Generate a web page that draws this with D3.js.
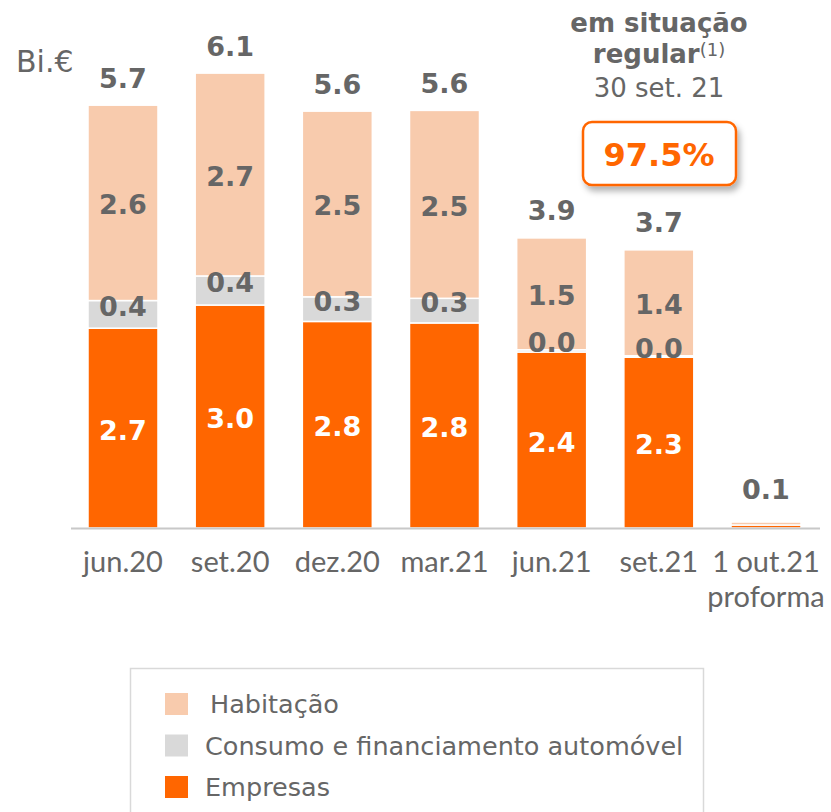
<!DOCTYPE html>
<html>
<head>
<meta charset="utf-8">
<script src="https://cdn.jsdelivr.net/npm/d3@7"></script>
<style>
  body { margin: 0; background: #fff; }
  svg { display: block; }
</style>
</head>
<body>
<svg width="831" height="812"></svg>
<script>
// periods shown on the x axis (second line for the proforma column)
var periods = ['jun.20', 'set.20', 'dez.20', 'mar.21', 'jun.21', 'set.21', '1 out.21'];
var periodSub = ['', '', '', '', '', '', 'proforma'];

// values in Bi.€
var empresas  = [2.68, 2.99, 2.77, 2.75, 2.36, 2.29, 0.04];
var consumo   = [0.37, 0.39, 0.33, 0.33, 0.03, 0.02, 0.00];
var habitacao = [2.62, 2.72, 2.49, 2.52, 1.50, 1.42, 0.04];

var seriesNames = ['Empresas', 'Consumo e financiamento automóvel', 'Habitação'];
var legendOrder = ['Habitação', 'Consumo e financiamento automóvel', 'Empresas'];

var regularShare = 97.5;

var ORANGE = '#ff6600',
  PEACH = '#f8cbad',
  GREY = '#d9d9d9',
  TEXT = '#666666';

var colors = {
  'Empresas': ORANGE,
  'Consumo e financiamento automóvel': GREY,
  'Habitação': PEACH
};

var svg = d3.select('svg');
var font = "'DejaVu Sans', Verdana, sans-serif";
var fmt = d3.format('.1f');

var rows = periods.map(function(p, i) {
  return {
    period: p,
    'Empresas': empresas[i],
    'Consumo e financiamento automóvel': consumo[i],
    'Habitação': habitacao[i]
  };
});

var x = d3.scaleBand()
  .domain(periods)
  .range([88, 801])
  .paddingInner(0.347)
  .paddingOuter(0);

var y = d3.scaleLinear()
  .domain([0, 7])
  .range([528, 6]);

var stack = d3.stack().keys(seriesNames)(rows);

// shadow for the highlight box
var defs = svg.append('defs');
defs.append('filter')
  .attr('id', 'shadow')
  .attr('x', '-20%').attr('y', '-20%')
  .attr('width', '150%').attr('height', '160%')
  .append('feDropShadow')
  .attr('dx', 3).attr('dy', 5)
  .attr('stdDeviation', 3)
  .attr('flood-color', '#000')
  .attr('flood-opacity', 0.3);

// bars
var layers = svg.append('g').attr('class', 'bars')
  .selectAll('g')
  .data(stack)
  .enter().append('g')
  .attr('fill', function(d) { return colors[d.key]; });

layers.selectAll('rect')
  .data(function(d) { return d; })
  .enter().append('rect')
  .attr('x', function(d) { return x(d.data.period); })
  .attr('y', function(d) { return y(d[1]); })
  .attr('width', x.bandwidth())
  .attr('height', function(d) { return y(d[0]) - y(d[1]); })
  .attr('stroke', '#fff')
  .attr('stroke-width', 1.5);

// axis baseline
svg.append('line')
  .attr('x1', 71).attr('x2', 820)
  .attr('y1', y(0) + 0.5).attr('y2', y(0) + 0.5)
  .attr('stroke', '#c8c8c8')
  .attr('stroke-width', 2);

// segment labels (not for the proforma column)
stack.forEach(function(layer) {
  var shift = layer.key === 'Consumo e financiamento automóvel' ? -8 : 2;
  svg.append('g').selectAll('text')
    .data(layer.filter(function(d, i) { return i < periods.length - 1; }))
    .enter().append('text')
    .attr('x', function(d) { return x(d.data.period) + x.bandwidth() / 2; })
    .attr('y', function(d) { return (y(d[0]) + y(d[1])) / 2 + shift; })
    .attr('text-anchor', 'middle')
    .attr('dominant-baseline', 'central')
    .attr('font-family', font)
    .attr('font-weight', 'bold')
    .attr('font-size', 27)
    .attr('fill', layer.key === 'Empresas' ? '#fff' : TEXT)
    .text(function(d) { return fmt(d[1] - d[0]); });
});

// totals above bars
svg.append('g').selectAll('text')
  .data(rows)
  .enter().append('text')
  .attr('x', function(d) { return x(d.period) + x.bandwidth() / 2; })
  .attr('y', function(d, i) {
    var total = empresas[i] + consumo[i] + habitacao[i];
    return y(total) - (i === periods.length - 1 ? 33 : 27);
  })
  .attr('text-anchor', 'middle')
  .attr('dominant-baseline', 'central')
  .attr('font-family', font)
  .attr('font-weight', 'bold')
  .attr('font-size', 27)
  .attr('fill', TEXT)
  .text(function(d, i) { return fmt(empresas[i] + consumo[i] + habitacao[i]); });

// category labels
var cat = svg.append('g').selectAll('text')
  .data(periods)
  .enter().append('text')
  .attr('x', function(d) { return x(d) + x.bandwidth() / 2; })
  .attr('y', 572)
  .attr('text-anchor', 'middle')
  .attr('font-family', "Lato, 'Open Sans', sans-serif")
  .attr('font-size', 29)
  .attr('fill', TEXT);

cat.append('tspan').text(function(d) { return d; });
cat.append('tspan')
  .attr('x', function(d) { return x(d) + x.bandwidth() / 2; })
  .attr('dy', 35)
  .text(function(d, i) { return periodSub[i]; });

// unit
svg.append('text')
  .attr('x', 16).attr('y', 72)
  .attr('font-family', font)
  .attr('font-size', 30)
  .attr('fill', TEXT)
  .text('Bi.€');

// header at top right
var head = svg.append('g')
  .attr('font-family', font)
  .attr('fill', TEXT)
  .attr('text-anchor', 'middle');

head.append('text')
  .attr('x', 659).attr('y', 32)
  .attr('font-weight', 'bold')
  .attr('font-size', 26)
  .text('em situação');

var reg = head.append('text')
  .attr('x', 659).attr('y', 63)
  .attr('font-size', 26);
reg.append('tspan').attr('font-weight', 'bold').text('regular');
reg.append('tspan').attr('font-size', 18).attr('dy', -7).text('(1)');

head.append('text')
  .attr('x', 659).attr('y', 97)
  .attr('font-size', 26)
  .text('30 set. 21');

svg.append('rect')
  .attr('x', 583).attr('y', 122)
  .attr('width', 153).attr('height', 63)
  .attr('rx', 9)
  .attr('fill', '#fff')
  .attr('stroke', ORANGE)
  .attr('stroke-width', 2.5)
  .attr('filter', 'url(#shadow)');

svg.append('text')
  .attr('x', 659).attr('y', 166)
  .attr('text-anchor', 'middle')
  .attr('font-family', font)
  .attr('font-weight', 'bold')
  .attr('font-size', 32)
  .attr('fill', ORANGE)
  .text(fmt(regularShare) + '%');

// legend
var legend = svg.append('g');
legend.append('rect')
  .attr('x', 130.5).attr('y', 668.5)
  .attr('width', 573).attr('height', 160)
  .attr('fill', '#fff')
  .attr('stroke', '#d9d9d9')
  .attr('stroke-width', 1.5);

var item = legend.selectAll('g.item')
  .data(legendOrder)
  .enter().append('g')
  .attr('class', 'item')
  .attr('transform', function(d, i) { return 'translate(165,' + (693 + i * 41.5) + ')'; });

item.append('rect')
  .attr('width', 23).attr('height', 22)
  .attr('fill', function(d) { return colors[d]; });

item.append('text')
  .attr('x', function(d, i) { return i === 0 ? 45 : 40; })
  .attr('y', 20)
  .attr('font-family', font)
  .attr('font-size', 25.5)
  .attr('fill', TEXT)
  .text(function(d) { return d; });
</script>
</body>
</html>
